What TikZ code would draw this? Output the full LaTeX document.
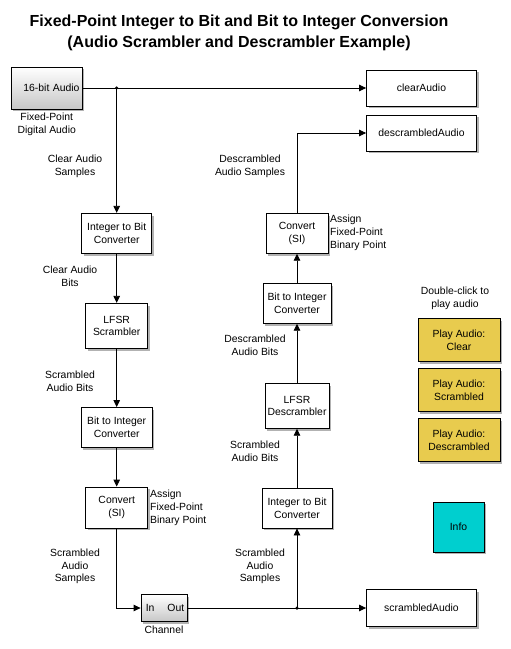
\documentclass[tikz,border=0pt]{standalone}
\usepackage{fontspec}
\setmainfont{Liberation Sans}
\usetikzlibrary{arrows.meta,shadows,calc}
\definecolor{playyellow}{HTML}{E8CB4E}
\definecolor{infocyan}{HTML}{00CFCF}
\tikzset{
  blk/.style={draw, line width=0.8pt, fill=white, inner sep=0pt, align=center,
    font=\fontsize{10.4}{12.7}\selectfont,
    drop shadow={shadow xshift=2.2pt, shadow yshift=-2.2pt, opacity=0.3, fill=black}},
  grad/.style={blk, top color=white, bottom color=black!22},
  lbl/.style={align=center, inner sep=0pt, font=\fontsize{10.4}{12.8}\selectfont},
  wire/.style={line width=0.8pt, -{Triangle[length=7pt,width=6.5pt]}},
  jdot/.style={circle, fill=black, inner sep=0pt, minimum size=3.5pt},
}
\begin{document}
\begin{tikzpicture}[x=1pt,y=-1pt]
\useasboundingbox (0,0) rectangle (511,649);

% title
\node[align=center, inner sep=0pt, font=\fontsize{16}{21}\selectfont\bfseries] (title) at (239,32.5)
  {Fixed-Point Integer to Bit and Bit to Integer Conversion\\(Audio Scrambler and Descrambler Example)};

% blocks
\node[grad, minimum width=71pt, minimum height=42pt, text width=66pt, align=right] (src) at (46.5,88) {16-bit Audio};
\node[blk, minimum width=110pt, minimum height=36pt] (clear) at (421.5,88) {clearAudio};
\node[blk, minimum width=110pt, minimum height=36pt] (desc) at (421.5,133) {descrambledAudio};
\node[blk, minimum width=110pt, minimum height=37pt] (scr) at (421.5,608) {scrambledAudio};

\node[blk, minimum width=70pt, minimum height=40pt] (i2b1) at (116.7,233.3) {Integer to Bit\\Converter};
\node[blk, minimum width=62pt, minimum height=45pt] (lfsr1) at (116.7,325.8) {LFSR\\Scrambler};
\node[blk, minimum width=71pt, minimum height=40pt] (b2i1) at (116.7,427.5) {Bit to Integer\\Converter};
\node[blk, minimum width=62pt, minimum height=41pt] (conv1) at (116.7,507.5) {Convert\\(SI)};
\node[grad, minimum width=46pt, minimum height=27pt] (chan) at (164,608) {};
\node[lbl, anchor=west] (chanin) at ([xshift=5pt]chan.west) {In};
\node[lbl, anchor=east] (chanout) at ([xshift=-3pt]chan.east) {Out};

\node[blk, minimum width=70pt, minimum height=40pt] (i2b2) at (297,508) {Integer to Bit\\Converter};
\node[blk, minimum width=64pt, minimum height=45pt] (lfsr2) at (297,405.8) {LFSR\\Descrambler};
\node[blk, minimum width=68pt, minimum height=40pt] (b2i2) at (297,303.3) {Bit to Integer\\Converter};
\node[blk, minimum width=62pt, minimum height=40pt] (conv2) at (297,233.3) {Convert\\(SI)};

\node[blk, fill=playyellow, minimum width=82pt, minimum height=43pt] (play1) at (459,340) {Play Audio:\\Clear};
\node[blk, fill=playyellow, minimum width=82pt, minimum height=43pt] (play2) at (459,390) {Play Audio:\\Scrambled};
\node[blk, fill=playyellow, minimum width=82pt, minimum height=43pt] (play3) at (459,440) {Play Audio:\\Descrambled};
\node[blk, fill=infocyan, minimum width=51pt, minimum height=50pt] (info) at (458.5,527) {Info};

% labels
\node[lbl] (l1) at (46.7,124.5) {Fixed-Point\\Digital Audio};
\node[lbl] (l2) at (75,166) {Clear Audio\\Samples};
\node[lbl] (l3) at (70,276.5) {Clear Audio\\Bits};
\node[lbl] (l4) at (70,381.5) {Scrambled\\Audio Bits};
\node[lbl, anchor=west, align=left] (l5) at (150,508) {Assign\\Fixed-Point\\Binary Point};
\node[lbl] (l6) at (75,566.5) {Scrambled\\Audio\\Samples};
\node[lbl] (l7) at (164,630) {Channel};
\node[lbl] (l8) at (260,566.5) {Scrambled\\Audio\\Samples};
\node[lbl] (l9) at (255,451) {Scrambled\\Audio Bits};
\node[lbl] (l10) at (255,345.5) {Descrambled\\Audio Bits};
\node[lbl, anchor=west, align=left] (l11) at (330,233) {Assign\\Fixed-Point\\Binary Point};
\node[lbl] (l12) at (250,166.3) {Descrambled\\Audio Samples};
\node[lbl] (l13) at (455,298) {Double-click to\\play audio};

% connectors
\coordinate (j1) at (i2b1.north |- src.east);
\coordinate (j2) at (i2b2.south |- chan.east);
\draw[wire] (src.east) -- (clear.west);
\draw[wire] (j1) -- (i2b1.north);
\node[jdot] (j1dot) at (j1) {};
\draw[wire] (i2b1.south) -- (lfsr1.north);
\draw[wire] (lfsr1.south) -- (b2i1.north);
\draw[wire] (b2i1.south) -- (conv1.north);
\draw[wire] (conv1.south) |- (chan.west);
\draw[wire] (chan.east) -- (scr.west);
\draw[wire] (j2) -- (i2b2.south);
\node[jdot] (j2dot) at (j2) {};
\draw[wire] (i2b2.north) -- (lfsr2.south);
\draw[wire] (lfsr2.north) -- (b2i2.south);
\draw[wire] (b2i2.north) -- (conv2.south);
\draw[wire] (conv2.north) |- (desc.west);
\end{tikzpicture}
\end{document}
